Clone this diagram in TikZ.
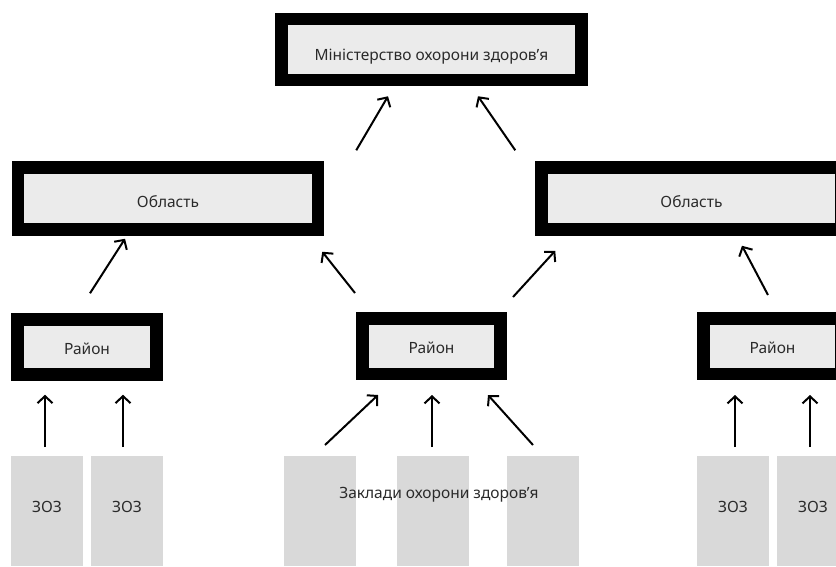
\documentclass[tikz,border=0pt]{standalone}
\usepackage{fontspec}
\setmainfont{Noto Sans}
\usetikzlibrary{arrows.meta}
\definecolor{innerfill}{HTML}{EBEBEB}
\definecolor{zozfill}{HTML}{D9D9D9}
\definecolor{txt}{HTML}{2A2A2A}
\begin{document}
\begin{tikzpicture}[x=1pt,y=-1pt,
  framebox/.style={draw=black, fill=innerfill, line width=12.5pt, text=txt,
    font=\fontsize{15.5}{18}\selectfont, text height=12pt, text depth=3pt, inner sep=0pt},
  zoz/.style={fill=zozfill, draw=none, inner sep=0pt, minimum width=72pt,
    minimum height=110pt, anchor=north, text=txt, font=\fontsize{15.5}{18}\selectfont,
    text height=12pt, text depth=3pt},
  lbl/.style={text=txt, font=\fontsize{15.5}{18}\selectfont, inner sep=0pt,
    text height=12pt, text depth=3pt},
  arr/.style={line width=2pt, -{Straight Barb[length=7pt,width=15pt]}}
]
\useasboundingbox (0,0) rectangle (836,566);
\clip (0,0) rectangle (836,566);

% top
\node[framebox, minimum width=300pt, minimum height=61pt] (moz) at (431.5,49.5)
  {\raisebox{-6pt}{Міністерство охорони здоров’я}};
% oblast
\node[framebox, minimum width=300pt, minimum height=62pt] (o1) at (168,198.5)
  {\raisebox{-4.5pt}{Область}};
\node[framebox, minimum width=300pt, minimum height=62pt] (o2) at (691.5,198.5)
  {\raisebox{-4.5pt}{Область}};
% raion
\node[framebox, minimum width=139pt, minimum height=55pt] (r1) at (87,347)
  {\raisebox{-3pt}{Район}};
\node[framebox, minimum width=138pt, minimum height=55.5pt] (r2) at (431.5,346)
  {\raisebox{-3pt}{Район}};
\node[framebox, minimum width=138pt, minimum height=55.5pt] (r3) at (772.5,346)
  {\raisebox{-3pt}{Район}};

% bottom boxes
\node[zoz] (z1) at (47,456) {\raisebox{3.5pt}{ЗОЗ}};
\node[zoz] (z2) at (127,456) {\raisebox{3.5pt}{ЗОЗ}};
\node[zoz] (z3) at (320,456) {};
\node[zoz] (z4) at (432.5,456) {};
\node[zoz] (z5) at (543,456) {};
\node[zoz] (z6) at (733,456) {\raisebox{3.5pt}{ЗОЗ}};
\node[zoz] (z7) at (813,456) {\raisebox{3.5pt}{ЗОЗ}};
\node[lbl] (zt) at (439,494) {Заклади охорони здоров’я};

% arrows bottom -> raion
\draw[arr] ([shift={(-2,-9)}]z1.north) -- ([shift={(-42,14)}]r1.south);
\draw[arr] ([shift={(-4,-9)}]z2.north) -- ([shift={(36,14)}]r1.south);
\draw[arr] ([shift={(5,-11)}]z3.north) -- ([shift={(-53.5,15)}]r2.south);
\draw[arr] ([shift={(-0.5,-9)}]z4.north) -- ([shift={(0.5,15)}]r2.south);
\draw[arr] ([shift={(-10,-11)}]z5.north) -- ([shift={(56.5,15)}]r2.south);
\draw[arr] ([shift={(2,-9)}]z6.north) -- ([shift={(-37.5,15)}]r3.south);
\draw[arr] ([shift={(-3,-9)}]z7.north) -- ([shift={(37.5,15)}]r3.south);

% arrows raion -> oblast
\draw[arr] ([shift={(3,-20)}]r1.north) -- ([shift={(-43,3)}]o1.south);
\draw[arr] ([shift={(-76.5,-19)}]r2.north) -- ([shift={(-2,16)}]o1.south east);
\draw[arr] ([shift={(81.5,-15)}]r2.north) -- ([shift={(20,15)}]o2.south west);
\draw[arr] ([shift={(-4.5,-17)}]r3.north) -- ([shift={(50.5,10)}]o2.south);

% arrows oblast -> ministry
\draw[arr] ([shift={(32,-11)}]o1.north east) -- ([shift={(-43.5,10)}]moz.south);
\draw[arr] ([shift={(-20,-11)}]o2.north west) -- ([shift={(46.5,10)}]moz.south);
\end{tikzpicture}
\end{document}
